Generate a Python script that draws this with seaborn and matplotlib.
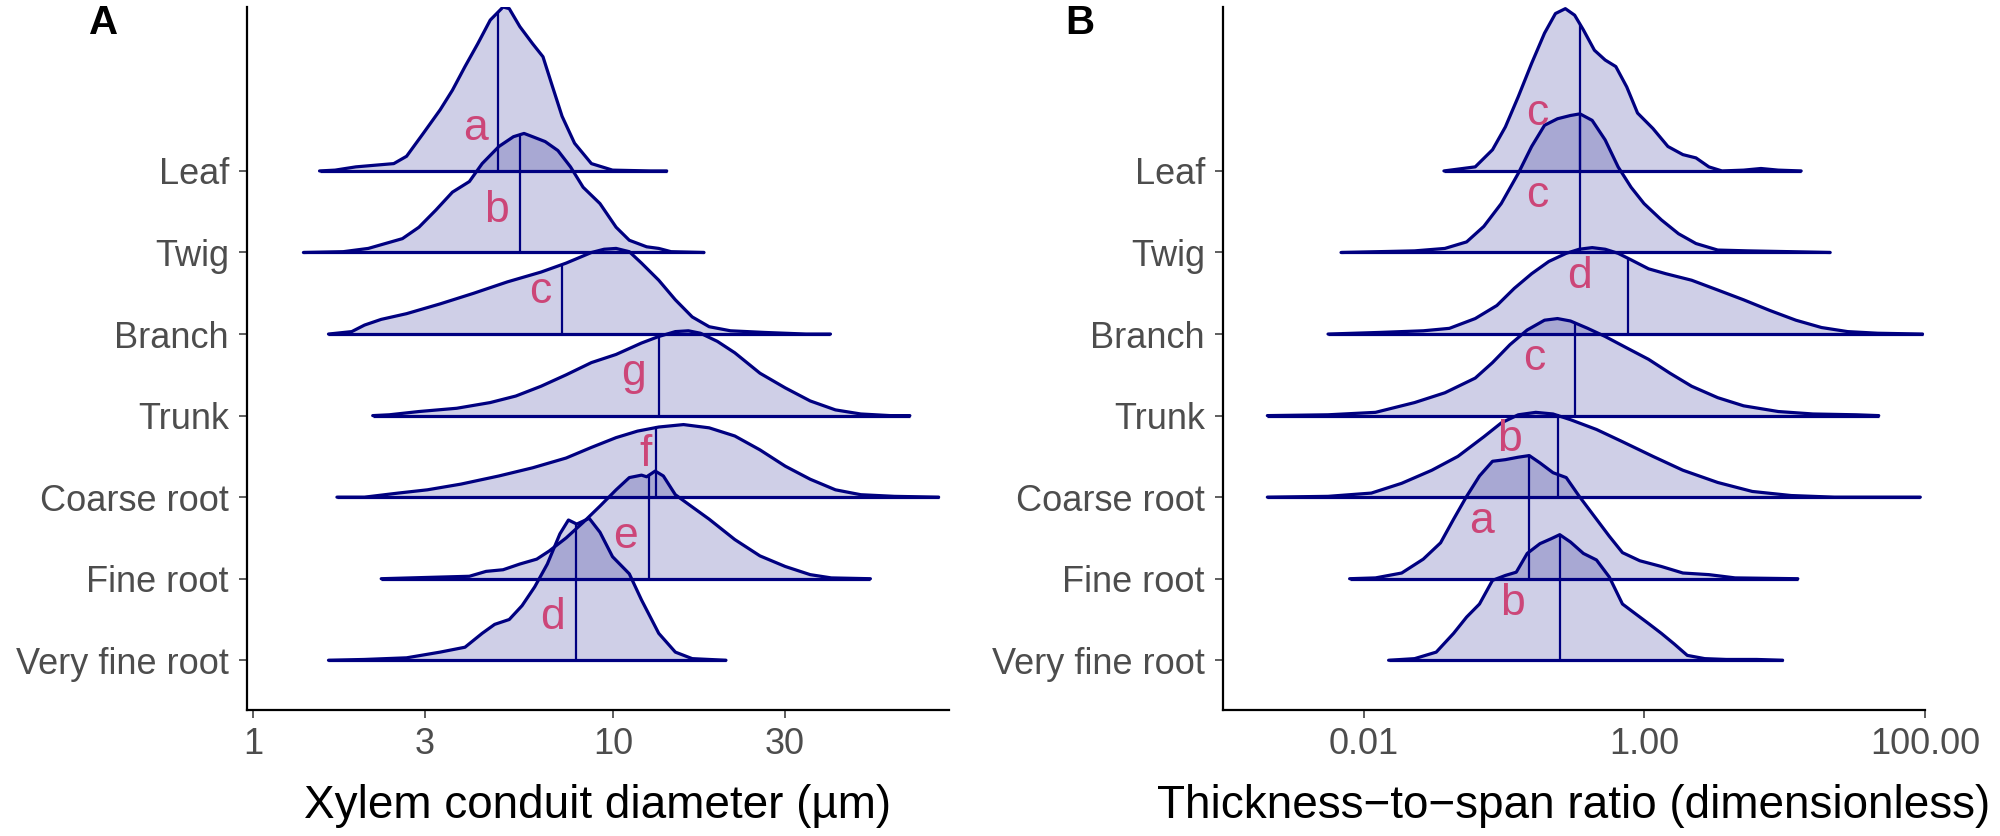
import numpy as np
import matplotlib
matplotlib.use("Agg")
import matplotlib.pyplot as plt
import seaborn as sns

# categories, top row first
organs = ["Leaf", "Twig", "Branch", "Trunk", "Coarse root", "Fine root", "Very fine root"]

# ---- Panel A: xylem conduit diameter (um), ridge outlines ----
leaf_diam_x = [1.69, 1.93, 2.46, 2.67, 2.97, 3.31, 3.58, 3.88, 4.21, 4.56, 4.95, 5.15, 5.51, 5.98, 6.39, 6.75, 7.22, 7.82, 8.71, 9.97, 12.7]
leaf_diam_h = [0.01, 0.05, 0.09, 0.18, 0.46, 0.75, 0.99, 1.28, 1.56, 1.85, 2.01, 1.99, 1.77, 1.56, 1.40, 1.07, 0.67, 0.34, 0.09, 0.01, 0.0]
twig_diam_x = [1.78, 2.09, 2.60, 2.89, 3.22, 3.58, 3.99, 4.33, 4.82, 5.29, 5.66, 5.98, 6.48, 7.03, 7.62, 8.26, 9.20, 10.2, 11.1, 12.4, 13.4, 14.5]
twig_diam_h = [0.01, 0.05, 0.17, 0.31, 0.52, 0.74, 0.87, 1.09, 1.30, 1.42, 1.46, 1.42, 1.36, 1.25, 1.05, 0.80, 0.60, 0.31, 0.15, 0.07, 0.05, 0.01]
branch_diam_x = [1.88, 2.04, 2.27, 2.67, 3.31, 4.10, 5.09, 6.31, 7.41, 8.71, 9.45, 10.2, 11.1, 12.0, 13.4, 14.9, 16.6, 18.5, 21.2, 26.3, 34.4]
branch_diam_h = [0.03, 0.11, 0.18, 0.25, 0.37, 0.50, 0.64, 0.76, 0.87, 1.00, 1.04, 1.05, 1.01, 0.87, 0.66, 0.42, 0.21, 0.09, 0.04, 0.02, 0.0]
trunk_diam_x = [2.39, 2.89, 3.68, 4.56, 5.37, 6.31, 7.41, 8.71, 10.2, 12.0, 13.4, 14.9, 16.2, 17.5, 19.5, 21.8, 25.6, 30.1, 35.3, 41.5, 48.8, 58.9]
trunk_diam_h = [0.01, 0.05, 0.09, 0.16, 0.24, 0.36, 0.50, 0.65, 0.75, 0.89, 0.97, 1.03, 1.04, 1.01, 0.91, 0.77, 0.52, 0.34, 0.18, 0.07, 0.02, 0.0]
coarse_diam_x = [2.04, 2.53, 3.05, 3.78, 4.82, 5.98, 7.41, 8.71, 10.2, 11.7, 13.4, 15.7, 18.5, 21.8, 25.6, 30.1, 35.3, 41.5, 48.8, 60.5]
coarse_diam_h = [0.0, 0.05, 0.09, 0.16, 0.26, 0.36, 0.48, 0.61, 0.73, 0.81, 0.86, 0.89, 0.85, 0.75, 0.58, 0.38, 0.22, 0.09, 0.03, 0.01]
fine_diam_x = [3.99, 4.44, 4.95, 5.51, 6.14, 6.65, 7.41, 8.26, 9.20, 10.2, 11.1, 12.0, 12.4, 13.1, 13.8, 14.9, 16.6, 18.5, 21.8, 25.6, 30.1, 35.3, 40.4]
fine_diam_h = [0.03, 0.09, 0.11, 0.18, 0.24, 0.34, 0.50, 0.69, 0.89, 1.09, 1.24, 1.27, 1.25, 1.32, 1.26, 1.03, 0.88, 0.73, 0.48, 0.28, 0.15, 0.05, 0.01]
vfine_diam_x = [2.04, 2.67, 3.31, 3.88, 4.33, 4.69, 5.15, 5.59, 6.06, 6.57, 7.12, 7.52, 7.93, 8.59, 9.20, 9.97, 11.1, 12.0, 13.4, 14.9, 16.6]
vfine_diam_h = [0.01, 0.03, 0.10, 0.16, 0.33, 0.44, 0.50, 0.67, 0.90, 1.18, 1.55, 1.72, 1.67, 1.74, 1.57, 1.27, 1.06, 0.74, 0.33, 0.10, 0.02]

diam_min = [1.53, 1.38, 1.62, 2.15, 1.71, 2.27, 1.62]
diam_max = [14.1, 17.9, 40.2, 66.8, 80.3, 51.9, 20.6]
diam_median = [4.8, 5.5, 7.2, 13.4, 13.2, 12.6, 7.9]
diam_letters = ["a", "b", "c", "g", "f", "e", "d"]
diam_letter_x = [4.15, 4.75, 6.26, 11.4, 12.3, 10.8, 6.78]

# ---- Panel B: thickness-to-span ratio ----
leaf_tsr_x = [0.0622, 0.0826, 0.102, 0.126, 0.157, 0.194, 0.232, 0.273, 0.318, 0.367, 0.440, 0.525, 0.625, 0.748, 0.893, 1.15, 1.47, 1.88, 2.33, 2.88, 3.57, 5.09, 6.77, 9.0]
leaf_tsr_h = [0.05, 0.26, 0.54, 0.91, 1.32, 1.69, 1.93, 1.99, 1.91, 1.73, 1.48, 1.36, 1.28, 1.03, 0.71, 0.52, 0.30, 0.20, 0.16, 0.05, 0.0, 0.01, 0.03, 0.01]
twig_tsr_x = [0.0230, 0.0378, 0.0540, 0.0716, 0.0953, 0.126, 0.157, 0.194, 0.240, 0.297, 0.347, 0.424, 0.525, 0.649, 0.803, 0.993, 1.32, 1.75, 2.33, 3.33, 5.47, 11.1]
twig_tsr_h = [0.02, 0.05, 0.13, 0.32, 0.60, 0.97, 1.30, 1.56, 1.64, 1.68, 1.70, 1.62, 1.38, 1.05, 0.80, 0.60, 0.40, 0.23, 0.11, 0.03, 0.02, 0.01]
branch_tsr_x = [0.0130, 0.0265, 0.0407, 0.0622, 0.0887, 0.118, 0.157, 0.208, 0.277, 0.343, 0.424, 0.525, 0.649, 0.803, 1.07, 1.42, 2.17, 3.33, 5.09, 7.81, 12.0, 18.3, 28.1, 46.1]
branch_tsr_h = [0.02, 0.04, 0.07, 0.19, 0.35, 0.56, 0.74, 0.89, 0.99, 1.04, 1.06, 1.04, 0.99, 0.91, 0.80, 0.74, 0.66, 0.54, 0.42, 0.29, 0.17, 0.08, 0.03, 0.01]
trunk_tsr_x = [0.00555, 0.0121, 0.0230, 0.0378, 0.0622, 0.0826, 0.110, 0.146, 0.194, 0.240, 0.297, 0.394, 0.525, 0.748, 1.07, 1.52, 2.17, 3.33, 5.09, 9.0, 15.9, 32.4]
trunk_tsr_h = [0.01, 0.04, 0.16, 0.28, 0.46, 0.65, 0.87, 1.05, 1.17, 1.19, 1.16, 1.07, 0.97, 0.83, 0.69, 0.52, 0.36, 0.22, 0.12, 0.05, 0.02, 0.01]
coarse_tsr_x = [0.00555, 0.0113, 0.0186, 0.0305, 0.0468, 0.0716, 0.0953, 0.126, 0.168, 0.223, 0.297, 0.455, 0.697, 1.15, 1.88, 3.33, 5.87, 11.1, 22.6]
coarse_tsr_h = [0.01, 0.05, 0.17, 0.33, 0.50, 0.74, 0.91, 1.01, 1.04, 1.02, 0.95, 0.83, 0.68, 0.50, 0.33, 0.18, 0.07, 0.02, 0.0]
fine_tsr_x = [0.0121, 0.0186, 0.0265, 0.0352, 0.0436, 0.0540, 0.0667, 0.0826, 0.102, 0.126, 0.151, 0.180, 0.223, 0.277, 0.343, 0.455, 0.562, 0.697, 0.927, 1.32, 1.88, 2.88, 4.43]
fine_tsr_h = [0.01, 0.07, 0.24, 0.44, 0.73, 1.01, 1.26, 1.44, 1.46, 1.49, 1.51, 1.42, 1.30, 1.24, 1.01, 0.73, 0.52, 0.32, 0.22, 0.15, 0.07, 0.05, 0.01]
vfine_tsr_x = [0.0230, 0.0328, 0.0436, 0.0540, 0.0667, 0.0826, 0.102, 0.122, 0.146, 0.180, 0.216, 0.249, 0.297, 0.367, 0.455, 0.562, 0.697, 0.863, 1.07, 1.32, 1.63, 2.02, 2.69, 3.83, 6.31]
vfine_tsr_h = [0.02, 0.10, 0.33, 0.53, 0.69, 0.98, 1.04, 1.08, 1.31, 1.43, 1.49, 1.54, 1.45, 1.31, 1.23, 1.02, 0.69, 0.57, 0.45, 0.33, 0.20, 0.06, 0.02, 0.01, 0.01]

tsr_min = [0.0372, 0.00687, 0.00555, 0.00205, 0.00205, 0.00791, 0.0150]
tsr_max = [13.1, 21.1, 96.0, 46.8, 92.6, 12.4, 9.66]
tsr_median = [0.35, 0.35, 0.76, 0.32, 0.24, 0.151, 0.249]
tsr_letters = ["c", "c", "d", "c", "b", "a", "b"]
tsr_letter_x = [0.173, 0.173, 0.343, 0.164, 0.110, 0.0692, 0.114]

line_col = "#000080"
text_col = "#CC4678"

sns.set_theme(style="ticks")
plt.rcParams['font.family'] = ['Liberation Sans', 'DejaVu Sans']


def draw_ridges(ax, xs_list, hs_list, lo, hi, medians, letters, letter_x, letter_off):
    n = len(organs)
    for i in range(n):
        base = n - 1 - i
        x = np.array(xs_list[i])
        h = np.array(hs_list[i])
        px = np.concatenate([[lo[i]], x, [hi[i]]])
        py = base + np.concatenate([[0.0], h, [0.0]])
        ax.fill_between(px, base, py, color=line_col, alpha=0.19, lw=0)
        sns.lineplot(x=px, y=py, ax=ax, color=line_col, linewidth=2.3,
                     sort=False, estimator=None, solid_joinstyle='round')
        ax.plot([lo[i], hi[i]], [base, base], color=line_col, lw=2.3,
                solid_capstyle='butt')
        top = np.interp(np.log10(medians[i]), np.log10(x), h)
        ax.plot([medians[i], medians[i]], [base, base + top], color=line_col, lw=1.6)
        ax.text(letter_x[i], base + letter_off, letters[i], color=text_col,
                fontsize=32, ha='center', va='baseline')


fig = plt.figure(figsize=(20, 8.36), dpi=100)
axA = fig.add_axes([0.1235, 0.1507, 0.351, 0.8409])
axB = fig.add_axes([0.6115, 0.1507, 0.351, 0.8409])

draw_ridges(axA,
            [leaf_diam_x, twig_diam_x, branch_diam_x, trunk_diam_x, coarse_diam_x, fine_diam_x, vfine_diam_x],
            [leaf_diam_h, twig_diam_h, branch_diam_h, trunk_diam_h, coarse_diam_h, fine_diam_h, vfine_diam_h],
            diam_min, diam_max, diam_median, diam_letters, diam_letter_x, 0.38)
draw_ridges(axB,
            [leaf_tsr_x, twig_tsr_x, branch_tsr_x, trunk_tsr_x, coarse_tsr_x, fine_tsr_x, vfine_tsr_x],
            [leaf_tsr_h, twig_tsr_h, branch_tsr_h, trunk_tsr_h, coarse_tsr_h, fine_tsr_h, vfine_tsr_h],
            tsr_min, tsr_max, tsr_median, tsr_letters, tsr_letter_x, 0.56)

for ax in (axA, axB):
    ax.set_xscale('log')
    ax.set_ylim(-0.61, 8.01)
    ax.set_yticks(range(len(organs)))
    ax.set_yticklabels(organs[::-1])
    ax.minorticks_off()
    sns.despine(ax=ax)
    for s in ('left', 'bottom'):
        ax.spines[s].set_linewidth(1.6)
        ax.spines[s].set_color('black')
    ax.tick_params(axis='both', labelsize=26, labelcolor='#4D4D4D', color='#333333',
                   length=6, width=1.1)
    ax.tick_params(axis='y', pad=7)
    ax.tick_params(axis='x', pad=6)
    ax.set_facecolor('white')

axA.set_xlim(0.962, 85.8)
axA.set_xticks([1, 3, 10, 30])
axA.set_xticklabels(["1", "3", "10", "30"])
axA.set_xlabel("Xylem conduit diameter (\u00b5m)", fontsize=33, color='black', labelpad=16)

axB.set_xlim(0.00099, 98.4)
axB.set_xticks([0.01, 1, 100])
axB.set_xticklabels(["0.01", "1.00", "100.00"])
axB.set_xlabel("Thickness\u2212to\u2212span ratio (dimensionless)", fontsize=33, color='black', labelpad=16)
axA.minorticks_off()
axB.minorticks_off()

fig.text(89 / 2000, 1 - 4 / 836, "A", fontsize=29, fontweight='bold', color='black', va='top', ha='left')
fig.text(1065 / 2000, 1 - 4 / 836, "B", fontsize=29, fontweight='bold', color='black', va='top', ha='left')

fig.savefig("out.png", dpi=100, facecolor='white')
